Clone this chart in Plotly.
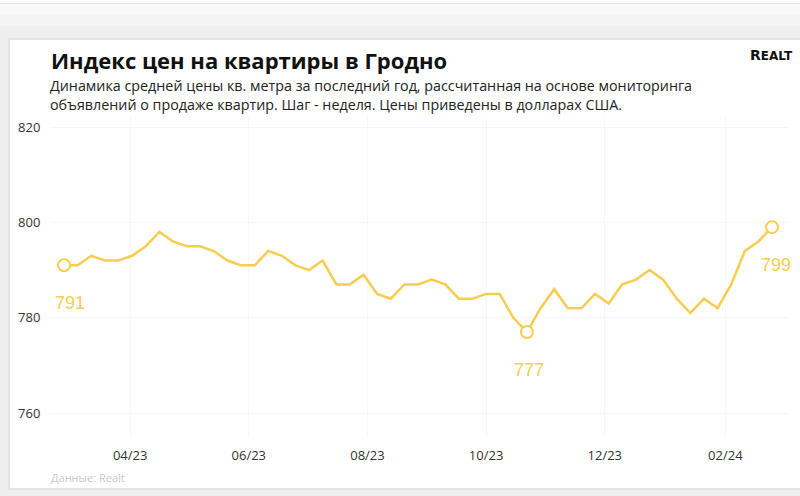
import pandas as pd
import plotly.graph_objects as go

# ---- data ----
start_date = "2023-02-26"
n_weeks = 53
prices = [791, 791, 793, 792, 792, 793, 795, 798, 796, 795, 795, 794, 792, 791, 791,
          794, 793, 791, 790, 792, 787, 787, 789, 785, 784, 787, 787, 788, 787, 784,
          784, 785, 785, 780, 777, 782, 786, 782, 782, 785, 783, 787, 788, 790, 788,
          784, 781, 784, 782, 787, 794, 796, 799]
dates = pd.date_range(start_date, periods=n_weeks, freq="7D")
highlight_idx = [0, 34, 52]
y_ticks = [760, 780, 800, 820]

title = "Индекс цен на квартиры в Гродно"
subtitle_lines = ["Динамика средней цены кв. метра за последний год, рассчитанная на основе мониторинга",
                  "объявлений о продаже квартир. Шаг - неделя. Цены приведены в долларах США."]
source = "Данные: Realt"

# ---- layout geometry (pixels) ----
W, H = 800, 496
PL, PR, PT, PB = 50, 788, 117, 437
YELLOW = "#F8CD4F"


def px_x(x):
    return (x - PL) / (PR - PL)


def px_y(y):
    return (PB - y) / (PB - PT)


fig = go.Figure()
fig.add_trace(go.Scatter(x=dates, y=prices, mode="lines",
                         line=dict(color=YELLOW, width=2.5), hoverinfo="skip"))
fig.add_trace(go.Scatter(x=[dates[i] for i in highlight_idx],
                         y=[prices[i] for i in highlight_idx], mode="markers",
                         marker=dict(size=12, color="white",
                                     line=dict(color=YELLOW, width=2)),
                         hoverinfo="skip"))

for i, xs in zip(highlight_idx, [6, 2, 4]):
    fig.add_annotation(x=dates[i], y=prices[i], text=str(prices[i]), showarrow=False,
                       yshift=-38, xshift=xs,
                       font=dict(family="Liberation Sans, Arial", size=18, color=YELLOW))

# card background & shadows
shapes = [
    dict(type="rect", xref="paper", yref="paper", x0=px_x(0), x1=px_x(W),
         y0=px_y(W), y1=px_y(0), fillcolor="#eeeeee", line_width=0, layer="below"),
    dict(type="rect", xref="paper", yref="paper", x0=px_x(0), x1=px_x(W),
         y0=px_y(3), y1=px_y(-2), fillcolor="#ffffff", line_width=0, layer="below"),
    dict(type="rect", xref="paper", yref="paper", x0=px_x(0), x1=px_x(W),
         y0=px_y(4), y1=px_y(3), fillcolor="#e6e6e6", line_width=0, layer="below"),
    dict(type="rect", xref="paper", yref="paper", x0=px_x(0), x1=px_x(W),
         y0=px_y(14), y1=px_y(4), fillcolor="#f9f9f9", line_width=0, layer="below"),
    dict(type="rect", xref="paper", yref="paper", x0=px_x(0), x1=px_x(W),
         y0=px_y(26), y1=px_y(14), fillcolor="#f4f4f4", line_width=0, layer="below"),
    dict(type="rect", xref="paper", yref="paper", x0=px_x(8), x1=px_x(W + 2),
         y0=px_y(490), y1=px_y(38), fillcolor="#e4e4e4", line_width=0, layer="below"),
    dict(type="rect", xref="paper", yref="paper", x0=px_x(10), x1=px_x(W + 2),
         y0=px_y(488), y1=px_y(40), fillcolor="#ffffff", line_width=0, layer="below"),
]
fig.update_layout(shapes=shapes)

fig.add_annotation(xref="paper", yref="paper", x=px_x(49), y=px_y(43), xanchor="left",
                   yanchor="top", text="<b>" + title + "</b>", showarrow=False,
                   font=dict(family="Open Sans", size=22, color="#111111"))
fig.add_annotation(xref="paper", yref="paper", x=px_x(49), y=px_y(75),
                   xanchor="left", yanchor="top", text="<br>".join(subtitle_lines),
                   showarrow=False, align="left", borderpad=0,
                   font=dict(family="Open Sans", size=14.3, color="#222222"))
fig.add_annotation(xref="paper", yref="paper", x=px_x(795), y=px_y(45), xanchor="right",
                   yanchor="top", text="<b>R<span style='font-size:12px'>EALT</span></b>",
                   showarrow=False,
                   font=dict(family="DejaVu Sans", size=14, color="#111111"))
fig.add_annotation(xref="paper", yref="paper", x=px_x(49), y=px_y(468), xanchor="left",
                   yanchor="top", text=source, showarrow=False,
                   font=dict(family="Open Sans", size=11, color="#c8c8c8"))

fig.update_layout(
    width=W, height=H,
    margin=dict(l=PL, r=W - PR, t=PT, b=H - PB),
    paper_bgcolor="#eeeeee", plot_bgcolor="rgba(0,0,0,0)",
    showlegend=False,
    xaxis=dict(range=["2023-02-18 19:00", "2024-03-04 05:00"], type="date",
               tick0="2023-04-01", dtick="M2", tickformat="%m/%y",
               showgrid=True, gridcolor="#f6f6f6", gridwidth=1, zeroline=False,
               showline=False, ticks="outside", ticklen=6, tickcolor="rgba(0,0,0,0)",
               tickfont=dict(family="Open Sans", size=13, color="#333333")),
    yaxis=dict(range=[755, 822.1], tickvals=y_ticks, showgrid=True, gridcolor="#f6f6f6",
               zeroline=False, showline=False, ticks="outside", ticklen=6,
               tickcolor="rgba(0,0,0,0)",
               tickfont=dict(family="Open Sans", size=13, color="#333333")),
)

fig.write_html("out.html")
